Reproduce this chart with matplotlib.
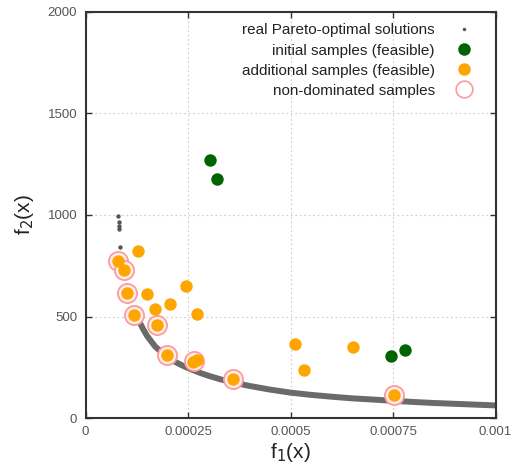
import matplotlib
matplotlib.use("Agg")
import matplotlib.pyplot as plt
from matplotlib.lines import Line2D

plt.rcParams['font.family'] = ['Liberation Sans', 'DejaVu Sans']

# real Pareto-optimal front (band)
pareto_f1 = [0.000120, 0.000130, 0.000140, 0.000150, 0.000160, 0.000170, 0.000185,
             0.000200, 0.000220, 0.000240, 0.000260, 0.000280, 0.000300, 0.000330,
             0.000360, 0.000400, 0.000450, 0.000500, 0.000550, 0.000600, 0.000650,
             0.000700, 0.000750, 0.000800, 0.000850, 0.000900, 0.000950, 0.001000]
pareto_f2 = [540, 480, 440, 405, 378, 352, 325,
             300, 275, 255, 238, 222, 208, 190,
             175, 158, 140, 125, 114, 105, 97,
             91, 85, 79, 74, 70, 66, 62]
# isolated Pareto-optimal points
pareto_iso_f1 = [0.000080, 0.000081, 0.000082, 0.000082, 0.000083, 0.000113, 0.000117]
pareto_iso_f2 = [995, 965, 947, 931, 842, 647, 630]

# initial samples (feasible)
init_f1 = [0.000304, 0.000321, 0.000745, 0.000779]
init_f2 = [1271, 1177, 305, 335]

# additional samples (feasible)
add_f1 = [0.000080, 0.0000947, 0.000127, 0.000100, 0.000150, 0.000245, 0.000170,
          0.000205, 0.000119, 0.000273, 0.000174, 0.000198, 0.000263, 0.000271,
          0.000359, 0.000511, 0.000532, 0.000653, 0.000752]
add_f2 = [773, 727, 824, 617, 609, 652, 535,
          562, 509, 511, 460, 309, 277, 286,
          194, 363, 236, 351, 112]

# non-dominated samples
nd_f1 = [0.000080, 0.0000947, 0.000100, 0.000119, 0.000174, 0.000198, 0.000265,
         0.000359, 0.000752]
nd_f2 = [773, 727, 617, 509, 460, 309, 280, 194, 112]

fig = plt.figure(figsize=(5.13, 4.68), dpi=100)
ax = fig.add_axes([0.1667, 0.1068, 0.7992, 0.8676])

ax.plot(pareto_f1, pareto_f2, color='#6a6a6a', lw=4.3, solid_capstyle='round', zorder=2)
ax.scatter(pareto_iso_f1, pareto_iso_f2, s=10, color='#555555', zorder=2, linewidths=0)
ax.scatter(nd_f1, nd_f2, s=190, facecolors='#ffeeee', edgecolors='#ff9a9a',
           linewidths=1.3, zorder=3)
ax.scatter(init_f1, init_f2, s=80, color='#006400', zorder=4, linewidths=0)
ax.scatter(add_f1, add_f2, s=80, color='#ffa500', zorder=4, linewidths=0)

ax.set_xlim(0, 0.001)
ax.set_ylim(0, 2000)
ax.set_xticks([0, 0.00025, 0.0005, 0.00075, 0.001])
ax.set_xticklabels(['0', '0.00025', '0.0005', '0.00075', '0.001'])
ax.set_yticks([0, 500, 1000, 1500, 2000])
ax.tick_params(direction='in', top=True, right=True, length=4, width=1,
               colors='#333333', labelcolor='#555555', labelsize=9.5, pad=6)
ax.grid(True, linestyle=(0, (1.5, 2.5)), color='#cccccc', lw=0.8)
ax.set_axisbelow(True)
for sp in ax.spines.values():
    sp.set_linewidth(1.5)
    sp.set_color('#333333')

ax.set_xlabel(r'f$_1$(x)', fontsize=15, labelpad=2, color='#222222')
ax.set_ylabel(r'f$_2$(x)', fontsize=15, labelpad=8, color='#222222')

handles = [
    Line2D([], [], ls='none', marker='o', ms=2.5, color='#555555', mec='none'),
    Line2D([], [], ls='none', marker='o', ms=9, color='#006400', mec='none'),
    Line2D([], [], ls='none', marker='o', ms=9, color='#ffa500', mec='none'),
    Line2D([], [], ls='none', marker='o', ms=12, mfc='white', mec='#ff9a9a', mew=1.2),
]
labels = ['real Pareto-optimal solutions', 'initial samples (feasible)',
          'additional samples (feasible)', 'non-dominated samples']
leg = ax.legend(handles, labels, loc='upper right', frameon=False, markerfirst=False,
                fontsize=11, handlelength=1.2, handletextpad=1.3, labelspacing=0.4,
                borderaxespad=0.35, bbox_to_anchor=(0.973, 1.0))
for t in leg.get_texts():
    t.set_color('#222222')

fig.savefig('out.png', dpi=100)
